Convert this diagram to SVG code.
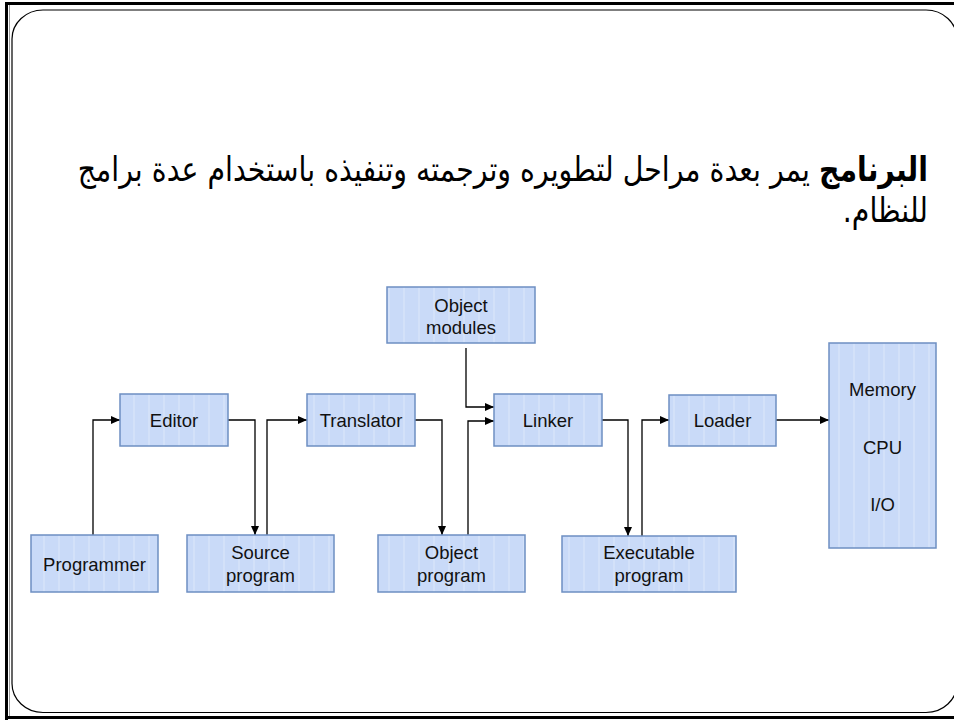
<svg xmlns="http://www.w3.org/2000/svg" width="954" height="722" viewBox="0 0 954 722">
  <defs>
    <pattern id="stripes" x="0" y="0" width="15" height="20" patternUnits="userSpaceOnUse">
      <rect width="15" height="20" fill="#c9daf8"/>
      <rect x="13" width="2" height="20" fill="#d3e1f9"/>
    </pattern>
    <marker id="arrow" markerWidth="9" markerHeight="8" refX="9" refY="4" orient="auto" markerUnits="userSpaceOnUse">
      <path d="M0,0 L9,4 L0,8 z" fill="#000"/>
    </marker>
    <style>
      .box { fill: url(#stripes); stroke: #6d8fc2; stroke-width: 1.5; }
      .lbl { font-family: "Liberation Sans", Arial, sans-serif; font-size: 18.5px; fill: #111; text-anchor: middle; }
      .wire { fill: none; stroke: #000; stroke-width: 1.3; marker-end: url(#arrow); }
      .ar { font-family: "DejaVu Sans", "Liberation Sans", sans-serif; font-size: 28.4px; fill: #000; }
    </style>
  </defs>

  <rect width="954" height="722" fill="#fff"/>

  <!-- slide frame -->
  <g id="frame">
    <line x1="6.5" y1="2" x2="6.5" y2="720" stroke="#000" stroke-width="3"/>
    <line x1="5" y1="3.5" x2="954" y2="3.5" stroke="#000" stroke-width="3"/>
    <line x1="5" y1="717.5" x2="954" y2="717.5" stroke="#000" stroke-width="3"/>
    <line x1="9.5" y1="5" x2="9.5" y2="716" stroke="#999" stroke-width="1"/>
    <rect x="12" y="10" width="945" height="702.5" rx="31" ry="29" fill="none" stroke="#000" stroke-width="1.2"/>
  </g>

  <!-- heading text (slightly stretched vertically) -->
  <g id="heading">
    <text class="ar" transform="translate(928,181) scale(1,1.2)" x="0" y="0" direction="rtl"><tspan font-weight="bold">البرنامج</tspan> يمر بعدة مراحل لتطويره وترجمته وتنفيذه باستخدام عدة برامج</text>
    <text class="ar" transform="translate(928,222) scale(1,1.2)" x="0" y="0" direction="rtl">للنظام.</text>
  </g>

  <!-- connectors -->
  <g id="connectors">
    <path class="wire" d="M93,535 V420 H120"/>
    <path class="wire" d="M228,420 H255 V535"/>
    <path class="wire" d="M267,535 V420 H307"/>
    <path class="wire" d="M415,420 H442 V535"/>
    <path class="wire" d="M466,348 V407 H494"/>
    <path class="wire" d="M468,535 V421 H494"/>
    <path class="wire" d="M602,420 H628 V536"/>
    <path class="wire" d="M642,536 V420 H669"/>
    <path class="wire" d="M776,420 H829"/>
  </g>

  <!-- nodes -->
  <g id="programmer">
    <rect class="box" x="31" y="535" width="127" height="57"/>
    <text class="lbl" x="94.5" y="571">Programmer</text>
  </g>
  <g id="editor">
    <rect class="box" x="120" y="394" width="108" height="52"/>
    <text class="lbl" x="174" y="427">Editor</text>
  </g>
  <g id="source-program">
    <rect class="box" x="187" y="535" width="147" height="57"/>
    <text class="lbl" x="260.5" y="559">Source</text>
    <text class="lbl" x="260.5" y="582">program</text>
  </g>
  <g id="translator">
    <rect class="box" x="307" y="394" width="108" height="52"/>
    <text class="lbl" x="361" y="427">Translator</text>
  </g>
  <g id="object-modules">
    <rect class="box" x="387" y="287" width="148" height="56"/>
    <text class="lbl" x="461" y="312">Object</text>
    <text class="lbl" x="461" y="334">modules</text>
  </g>
  <g id="object-program">
    <rect class="box" x="378" y="535" width="147" height="57"/>
    <text class="lbl" x="451.5" y="559">Object</text>
    <text class="lbl" x="451.5" y="582">program</text>
  </g>
  <g id="linker">
    <rect class="box" x="494" y="394" width="108" height="52"/>
    <text class="lbl" x="548" y="427">Linker</text>
  </g>
  <g id="executable-program">
    <rect class="box" x="562" y="536" width="174" height="56"/>
    <text class="lbl" x="649" y="559">Executable</text>
    <text class="lbl" x="649" y="582">program</text>
  </g>
  <g id="loader">
    <rect class="box" x="669" y="395" width="107" height="51"/>
    <text class="lbl" x="722.5" y="427">Loader</text>
  </g>
  <g id="machine">
    <rect class="box" x="829" y="343" width="107" height="205"/>
    <text class="lbl" x="882.5" y="396">Memory</text>
    <text class="lbl" x="882.5" y="454">CPU</text>
    <text class="lbl" x="882.5" y="511">I/O</text>
  </g>
</svg>
